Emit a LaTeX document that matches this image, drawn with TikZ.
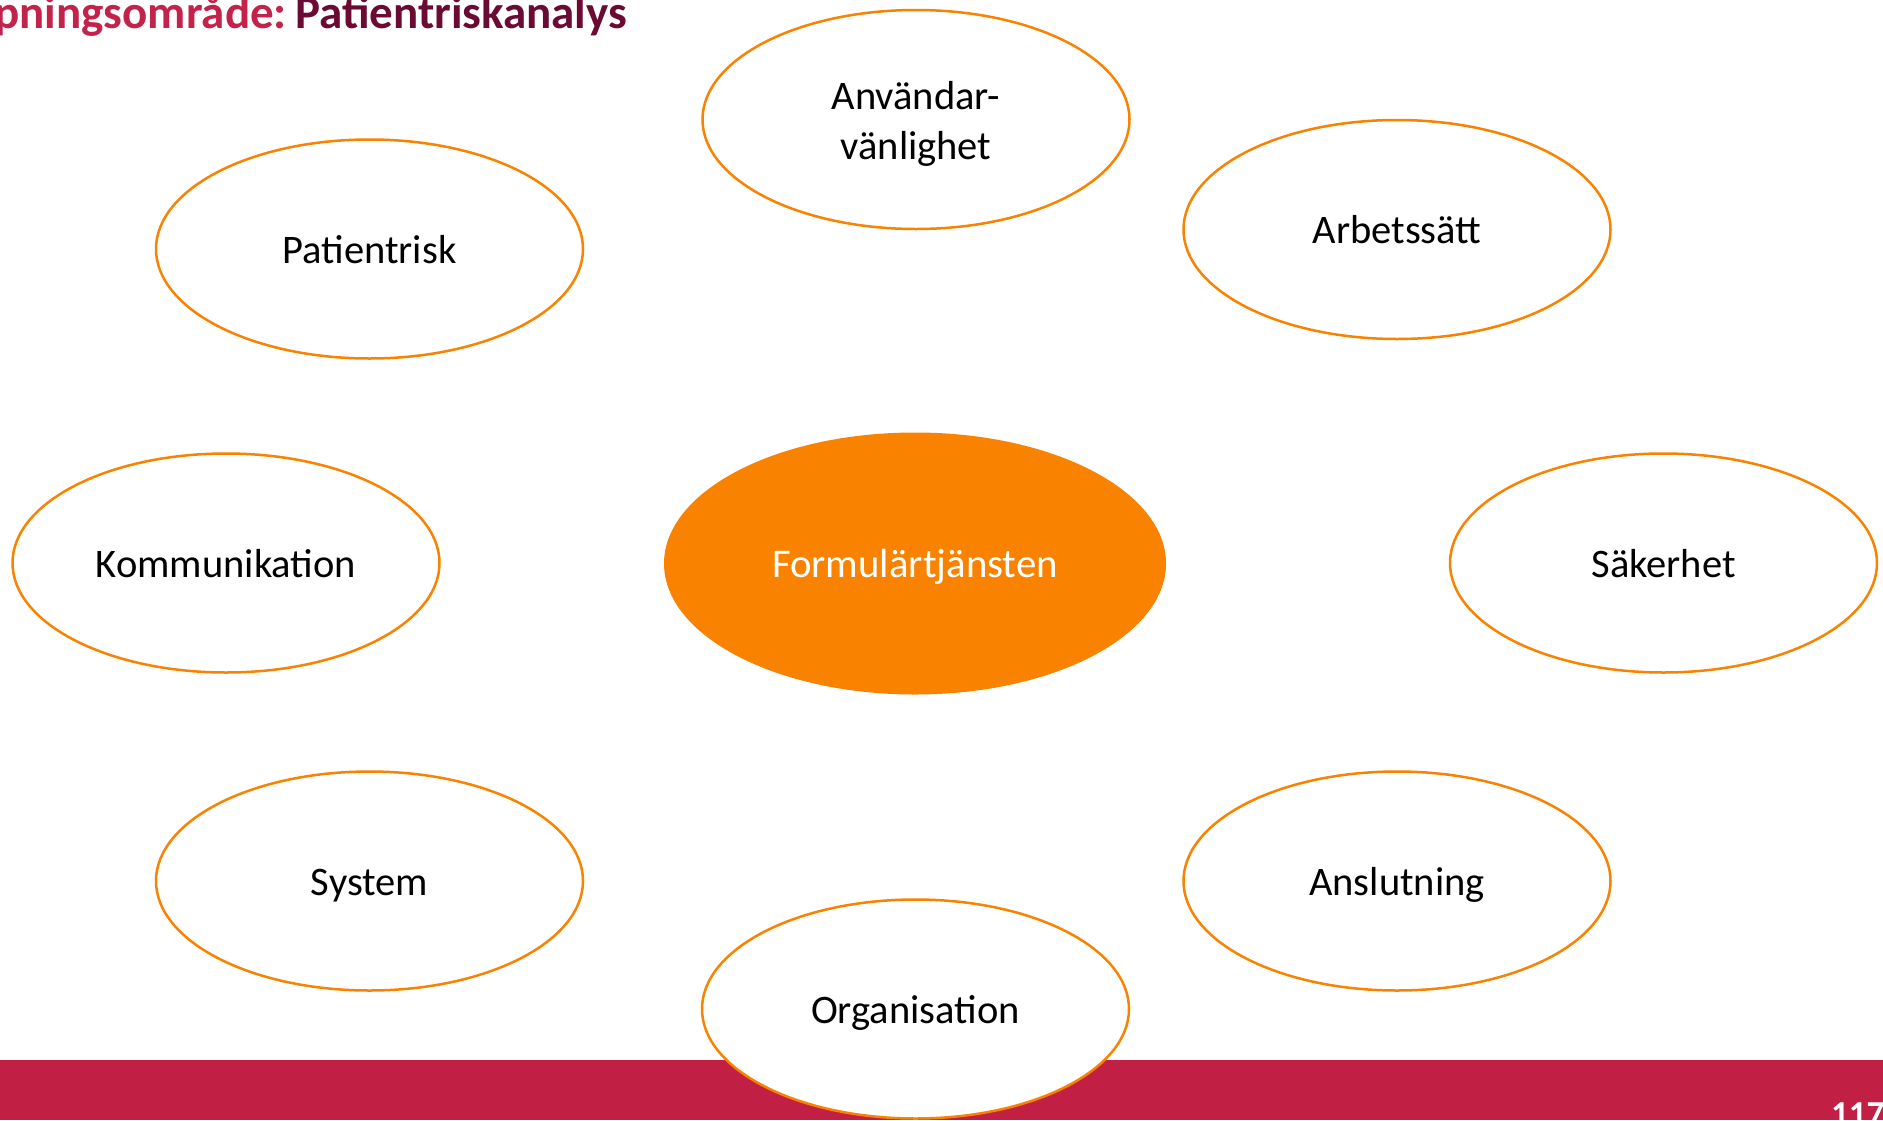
\documentclass[tikz,border=0pt]{standalone}
\usepackage{fontspec}
\setmainfont{Carlito}
\usetikzlibrary{shapes.geometric}
\definecolor{ora}{HTML}{F98300}
\definecolor{barred}{HTML}{C12044}
\definecolor{titlered}{HTML}{C3224B}
\definecolor{titlemaroon}{HTML}{6B0A33}
\begin{document}
\begin{tikzpicture}[x=1pt,y=-1pt,
  oval/.style={ellipse, draw=ora, line width=2.5pt, fill=white,
    minimum width=427pt, minimum height=219pt, inner sep=0pt,
    font=\fontsize{40.5}{50}\selectfont, text height=28pt, text depth=0pt},
  core/.style={ellipse, fill=ora, minimum width=502pt, minimum height=262pt,
    inner sep=0pt, text=white, font=\fontsize{40.8}{50}\selectfont,
    text height=28pt, text depth=0pt},
  ttl/.style={inner sep=0pt, font=\bfseries\fontsize{47}{50}\selectfont}]
\useasboundingbox (0,0) rectangle (1883,1120);
\clip (0,0) rectangle (1883,1120);
\fill[barred] (0,1060) rectangle (1883,1120);
\node[anchor=base west, inner sep=0pt, text=white,
  font=\bfseries\fontsize{35}{40}\selectfont] (logo) at (1831,1125) {1177};
\node[ttl, anchor=base east, text=titlered] (t1) at (287,28) {Fördjupningsområde:};
\node[ttl, anchor=base west, text=titlemaroon] (t2) at (295,28) {Patientriskanalys};
\node[oval, text depth=49pt] (anv) at (916,119.5)
  {\begin{tabular}[t]{@{}c@{}}Användar-\\vänlighet\end{tabular}};
\node[oval] (pat) at (369.5,249) {Patientrisk};
\node[oval] (arb) at (1397,229.5) {Arbetssätt};
\node[oval] (kom) at (226,563) {Kommunikation};
\node[core] (core) at (915,563.5) {Formulärtjänsten};
\node[oval] (sak) at (1663.5,563) {Säkerhet};
\node[oval] (sys) at (369.5,881) {System};
\node[oval] (ans) at (1397,881) {Anslutning};
\node[oval] (org) at (915.5,1009) {Organisation};
\end{tikzpicture}
\end{document}
